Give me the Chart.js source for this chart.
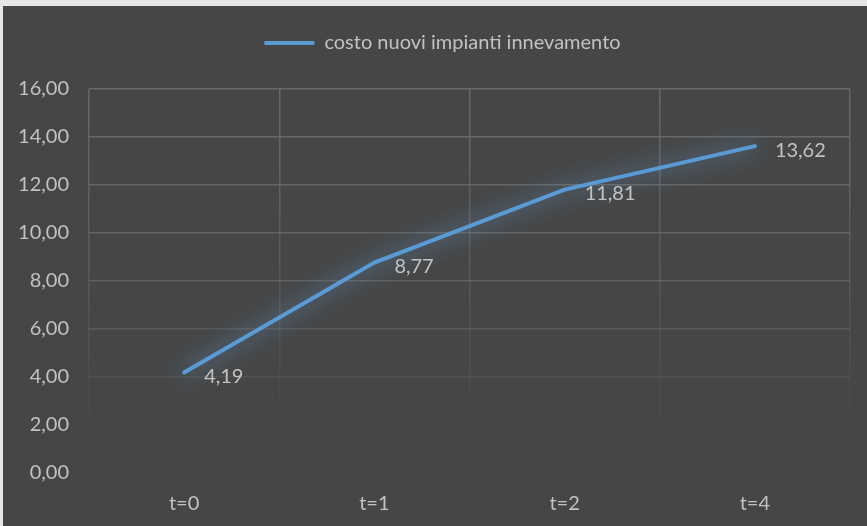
<!DOCTYPE html>
<html>
<head>
<meta charset="utf-8">
<script src="https://cdn.jsdelivr.net/npm/chart.js@4/dist/chart.umd.min.js"></script>
<style>
  html, body { margin: 0; padding: 0; background: #e6e6e6; }
  #wrap { position: absolute; left: 3px; top: 6px; width: 864px; height: 520px; background: #464646; }
  canvas { display: block; }
</style>
</head>
<body>
<div id="wrap"><canvas id="c" width="864" height="520"></canvas></div>
<script>
const categories = ['t=0', 't=1', 't=2', 't=4'];
const seriesName = 'costo nuovi impianti innevamento';
const seriesValues = [4.19, 8.77, 11.81, 13.62];
const yTicks = [0, 2, 4, 6, 8, 10, 12, 14, 16];

const FONT = 'Lato, "Open Sans", sans-serif';
const FONT_SIZE = 20;
const TEXT = '#c2c2c2';
const LINE = '#5b9bd5';

const fmt = v => v.toFixed(2).replace('.', ',');

// extra room between the legend and the plot, legend nudged right
const legendSpace = {
  id: 'legendSpace',
  afterInit(chart) {
    const lg = chart.legend;
    if (!lg) return;
    const fit = lg.fit;
    lg.fit = function () {
      fit.call(this);
      this.height += 26;
    };
  },
  afterLayout(chart) {
    const lg = chart.legend;
    if (!lg) return;
    lg.left += 16;
    lg.right += 16;
  }
};

// soft glow around the series line
const glow = {
  id: 'glow',
  beforeDatasetDraw(chart) {
    const ctx = chart.ctx;
    ctx.save();
    ctx.shadowColor = 'rgba(100,165,225,1)';
    ctx.shadowBlur = 22;
  },
  afterDatasetDraw(chart) {
    chart.ctx.restore();
  }
};

// value labels to the right of each point
const valueLabels = {
  id: 'valueLabels',
  afterDatasetsDraw(chart) {
    const ctx = chart.ctx;
    const meta = chart.getDatasetMeta(0);
    ctx.save();
    ctx.font = FONT_SIZE + 'px ' + FONT;
    ctx.fillStyle = TEXT;
    ctx.textAlign = 'left';
    ctx.textBaseline = 'middle';
    meta.data.forEach((pt, i) => {
      ctx.fillText(fmt(seriesValues[i]), pt.x + 20, pt.y + 4);
    });
    ctx.restore();
  }
};

// gridlines fade out toward the bottom of the plot
function gridAlpha(y, area) {
  const t = (y - area.top) / (area.bottom - area.top);
  return Math.max(0, 1 - Math.pow(t / 0.9, 2.2));
}

new Chart(document.getElementById('c'), {
  type: 'line',
  data: {
    labels: categories,
    datasets: [{
      label: seriesName,
      data: seriesValues,
      borderColor: LINE,
      backgroundColor: LINE,
      borderWidth: 4,
      pointRadius: 0,
      pointHoverRadius: 0,
      tension: 0,
      fill: false,
      borderCapStyle: 'round'
    }]
  },
  options: {
    responsive: false,
    animation: false,
    events: [],
    layout: { padding: { top: 17, right: 17, left: 0, bottom: 0 } },
    plugins: {
      legend: {
        position: 'top',
        labels: {
          color: TEXT,
          font: { family: FONT, size: FONT_SIZE },
          usePointStyle: true,
          pointStyle: 'line',
          pointStyleWidth: 50,
          padding: 10
        }
      },
      tooltip: { enabled: false }
    },
    scales: {
      x: {
        offset: true,
        border: { display: false },
        grid: {
          offset: true,
          drawTicks: false,
          lineWidth: 1.5,
          color: (ctx) => {
            const chart = ctx.chart;
            const area = chart.chartArea;
            if (!area) return 'rgba(105,105,105,0.8)';
            const g = chart.ctx.createLinearGradient(0, area.top, 0, area.bottom);
            g.addColorStop(0, 'rgba(108,108,108,0.9)');
            g.addColorStop(0.45, 'rgba(108,108,108,0.55)');
            g.addColorStop(0.8, 'rgba(108,108,108,0.12)');
            g.addColorStop(1, 'rgba(108,108,108,0)');
            return g;
          }
        },
        ticks: { color: TEXT, font: { family: FONT, size: FONT_SIZE }, padding: 19 },
        afterFit: (s) => { s.height = 53; }
      },
      y: {
        min: 0,
        max: 16,
        border: { display: false },
        afterBuildTicks: (s) => { s.ticks = yTicks.map(v => ({ value: v })); },
        grid: {
          drawTicks: false,
          lineWidth: 1.5,
          color: (ctx) => {
            const area = ctx.chart.chartArea;
            const sc = ctx.chart.scales.y;
            if (!area || !sc) return 'rgba(108,108,108,0.8)';
            const y = sc.getPixelForValue(ctx.tick.value);
            return 'rgba(108,108,108,' + (0.9 * gridAlpha(y, area)).toFixed(3) + ')';
          }
        },
        ticks: {
          color: TEXT,
          font: { family: FONT, size: FONT_SIZE },
          padding: 20,
          callback: (v) => fmt(v)
        },
        afterFit: (s) => { s.width = 86; }
      }
    }
  },
  plugins: [legendSpace, glow, valueLabels]
});
</script>
</body>
</html>
